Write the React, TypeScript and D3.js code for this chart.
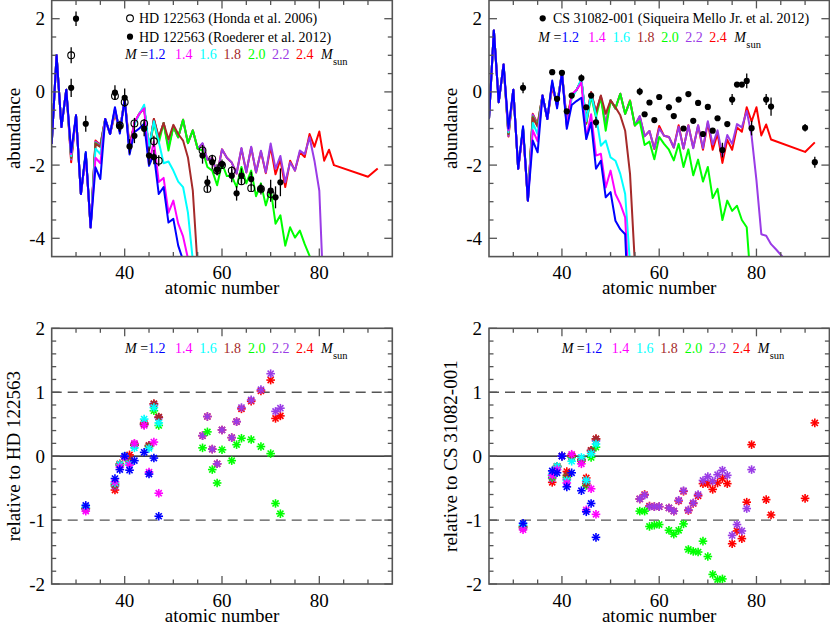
import React from "react";
import * as d3 from "d3";

const FONT = "'Liberation Serif','Times New Roman',Times,serif";

// ---------------- data ----------------
const Z_MODEL = [25,26,27,28,29,30,31,32,33,34,35,36,37,38,39,40,41,42,43,44,45,46,47,48,49,50,51,52,53,54,55,56,57,58,59,60,61,62,63,64,65,66,67,68,69,70,71,72,73,74,75,76,77,78,79,80,81,82,83,84,85,86,87,88,89,90,91,92];

const MASS_LABELS = ["1.2", "1.4", "1.6", "1.8", "2.0", "2.2", "2.4"];
const MASS_COLORS = ["#0000ff", "#ff00ff", "#00ffff", "#a52a2a", "#00ff00", "#9a3ce6", "#ff0000"];

// HD 122563 models (top-left)
const TL_M12 = [-1.42,1.0,-0.96,0.06,-1.65,-0.64,-2.79,-1.64,-3.7,-2.06, -2.38,-0.74,-1.15,-0.42,-1.14,-0.2,-1.71,-1.1,-1.0,-0.87, -2.02,-1.7,-2.79,-2.6,-3.57,-3.47,-4.2,-4.6,-7];
const TL_M14 = [-1.42,1.0,-0.96,0.06,-1.7,-0.64,-2.79,-1.72,-3.7,-1.8, -1.95,-0.74,-1.15,-0.46,-1.08,-0.2,-1.63,-0.83,-0.6,-0.45, -1.99,-1.35,-2.46,-2.35,-3.3,-2.97,-3.6,-3.95,-4.55,-7];
const TL_M16 = [-1.42,1.0,-0.96,0.06,-1.75,-0.64,-2.79,-1.67,-3.7,-1.55, -1.7,-0.74,-1.15,-0.48,-1.06,-0.2,-1.61,-0.9,-0.6,-0.35, -1.52,-0.8,-1.36,-1.95,-1.9,-2.15,-2.45,-2.6,-3.3,-4.6,-7];
const TL_M18 = [-1.42,1.0,-0.96,0.06,-1.8,-0.64,-2.79,-1.69,-3.7,-1.42, -1.5,-0.74,-1.15,-0.51,-1.06,-0.2,-1.54,-0.86,-0.6,-0.43, -1.58,-0.74,-1.24,-0.85,-1.3,-0.9,-1.15,-1.33,-1.79,-2.7,-4.8];
const TL_M20 = [-1.42,1.0,-0.96,0.06,-1.8,-0.64,-2.79,-1.68,-3.7,-1.4, -1.5,-0.74,-1.15,-0.5,-1.07,-0.2,-1.57,-0.86,-0.6,-0.43, -1.59,-0.85,-1.4,-0.85,-1.6,-0.95,-1.24,-0.76,-1.4,-1.05, -1.55,-1.6,-2.05,-2.15,-2.55,-1.95,-2.3,-2.3,-2.6,-2.05, -2.5,-2.15,-2.85,-2.5,-3.1,-2.65,-3.6,-3.37,-4.2,-3.7, -3.98,-3.79,-4.16,-4.48,-5.5];
const TL_M22 = [-1.42,1.0,-0.96,0.06,-1.85,-0.64,-2.79,-1.7,-3.7,-1.36, -1.45,-0.74,-1.15,-0.53,-1.07,-0.2,-1.59,-0.85,-0.6,-0.43, -1.58,-0.77,-1.28,-0.85,-1.5,-0.95,-1.24,-0.76,-1.4,-1.05, -1.55,-1.4,-1.85,-1.81,-2.25,-1.57,-1.8,-1.93,-2.23,-1.53, -2.2,-1.5,-2.2,-1.61,-2.2,-1.41,-2.1,-1.75,-2.47,-1.92, -2.15,-1.6,-1.7,-1.24,-1.88,-2.7,-6];
const TL_M24 = [-1.42,1.0,-0.96,0.06,-1.92,-0.64,-2.79,-1.69,-3.7,-1.33, -1.45,-0.74,-1.15,-0.6,-1.05,-0.2,-1.47,-0.84,-0.6,-0.41, -1.57,-0.74,-1.27,-0.85,-1.5,-0.95,-1.24,-0.76,-1.4,-1.05, -1.55,-1.42,-1.85,-1.81,-2.25,-1.57,-1.8,-1.93,-2.23,-1.55, -2.2,-1.52,-2.2,-1.63,-2.22,-1.5,-2.25,-1.85,-2.6,-1.88, -2.15,-1.65,-1.78,-1.15,-1.5,-1.08,-1.88,-1.58,-2.0, null,null,null,null,null,null,-2.32,null,-2.09];

// CS 31082-001 models (top-right)
const TR_M12 = [-0.74,1.68,-0.28,0.75,-1.0,0.06,-2.1,-0.94,-2.97,-1.33, -1.65,-0.1,-0.74,0.31,-0.45,0.52,-1.01,-0.36,-0.25,-0.16, -1.29,-0.84,-2.1,-1.88,-2.88,-2.74,-3.52,-3.75,-3.89,-7];
const TR_M14 = [-0.74,1.68,-0.28,0.75,-1.05,0.06,-2.1,-1.04,-2.97,-1.05, -1.35,-0.1,-0.74,0.24,-0.4,0.52,-0.95,-0.07,0.05,0.26, -1.26,-0.61,-1.74,-1.69,-2.61,-2.15,-2.79,-3.06,-3.43,-6];
const TR_M16 = [-0.74,1.68,-0.28,0.75,-1.1,0.06,-2.1,-0.97,-2.97,-0.85, -1.15,-0.1,-0.74,0.26,-0.35,0.52,-0.91,-0.18,0.05,0.36, -0.8,-0.06,-0.64,-1.47,-1.33,-1.79,-1.88,-2.24,-2.79,-4.7,-7];
const TR_M18 = [-0.74,1.68,-0.28,0.75,-1.15,0.06,-2.1,-0.99,-2.97,-0.7, -0.95,-0.1,-0.74,0.24,-0.35,0.52,-0.83,-0.1,0.05,0.33, -0.85,-0.01,-0.56,-0.1,-0.6,-0.23,-0.42,-0.64,-1.06,-2.24,-4.7];
const TR_M20 = [-0.74,1.68,-0.28,0.75,-1.15,0.06,-2.1,-0.99,-2.97,-0.68, -0.92,-0.1,-0.74,0.21,-0.35,0.52,-0.86,-0.12,0.05,0.31, -0.88,-0.12,-0.69,-0.14,-1.06,-0.23,-0.45,-0.05,-0.6,-0.25, -0.92,-0.8,-1.45,-1.36,-1.84,-1.23,-1.42,-1.58,-1.87,-1.42, -2.05,-1.57,-2.28,-1.85,-2.45,-2.05,-2.9,-2.65,-3.5,-2.97, -3.25,-3.11,-3.5,-3.7,-5.5];
const TR_M22 = [-0.74,1.68,-0.28,0.75,-1.2,0.06,-2.1,-1.01,-2.97,-0.62, -0.9,-0.1,-0.74,0.19,-0.36,0.52,-0.89,-0.11,0.05,0.31, -0.82,-0.02,-0.59,-0.12,-0.9,-0.23,-0.45,-0.05,-0.6,-0.25, -0.92,-0.66,-1.21,-1.07,-1.55,-1.0,-1.2,-1.23,-1.52,-0.95, -1.55,-0.92,-1.54,-0.91,-1.54,-0.8,-1.44,-1.05,-1.75,-1.18, -1.42,-0.88,-0.97,-0.52,-1.2,-2.42,-3.89,-3.93,-4.16,-4.3,-4.45,-4.6];
const TR_M24 = [-0.74,1.68,-0.28,0.75,-1.22,0.06,-2.1,-1.01,-2.97,-0.6, -0.87,-0.1,-0.74,0.13,-0.35,0.52,-0.77,-0.09,0.05,0.3, -0.76,-0.01,-0.56,-0.12,-0.9,-0.23,-0.45,-0.05,-0.6,-0.23, -0.92,-0.67,-1.21,-1.07,-1.56,-0.93,-1.2,-1.23,-1.52,-0.91, -1.55,-0.91,-1.53,-0.92,-1.58,-0.84,-1.58,-1.14,-1.94,-1.31, -1.58,-0.97,-1.09,-0.42,-0.81,-0.42,-1.19,-0.89,-1.3, null,null,null,null,null,null,-1.64,null,-1.38];

// observations
const HONDA_Z = [29,38,39,40,42,44,46,47,56,57,58,59,60,62,64,66,68,70];
const HONDA_V = [1.0,-0.11,-0.92,-0.28,-0.86,-0.86,-1.35,-1.88,-1.6,-2.65,-1.83,-2.15,-2.0,-2.15,-2.44,-2.63,-2.65,-2.79];
const HONDA_E = [0.22,0.1,0.1,0.12,0.15,0.12,0.15,0.15,0.15,0.1,0.1,0.1,0.1,0.12,0.1,0.1,0.1,0.15];

const ROED_Z = [29,30,32,38,39,40,41,42,44,45,46,56,57,58,59,60,62,63,64,66,68,70,71,72];
const ROED_V = [0.11,2.0,-0.87,-0.02,-0.94,-0.16,-1.49,-1.2,-1.01,-1.74,-1.78,-1.74,-2.47,-1.92,-2.13,-1.97,-2.29,-2.77,-2.29,-2.38,-2.65,-2.7,-2.88,-2.47];
const ROED_E = [0.25,0.2,0.22,0.2,0.15,0.25,0.2,0.2,0.2,0.25,0.2,0.22,0.18,0.2,0.15,0.12,0.18,0.2,0.2,0.2,0.15,0.3,0.3,0.38];

const CS_Z = [32,38,39,40,41,42,44,45,46,47,56,57,58,59,60,62,63,64,65,66,67,68,69,70,71,72,73,74,75,76,77,78,79,82,83,90,92];
const CS_V = [0.11,0.54,-0.19,0.52,-0.53,-0.1,0.38,-0.42,-0.1,-0.83,0.01,-0.61,-0.29,-0.77,-0.14,-0.42,-0.66,-0.21,-1.0,-0.06,-0.79,-0.3,-1.15,-0.41,-1.06,-0.72,-1.59,-0.88,-0.21,0.2,0.2,0.3,-0.99,-0.21,-0.4,-0.98,-1.92];
const CS_E = [0.15,0.05,0.05,0.05,0.05,0.05,0.1,0.05,0.05,0.15,0.1,0.05,0.05,0.05,0.05,0.08,0.05,0.05,0.05,0.05,0.05,0.05,0.05,0.05,0.05,0.05,0.2,0.05,0.15,0.05,0.05,0.2,0.2,0.15,0.25,0.1,0.15];

// relative to HD 122563 (bottom-left)
const BL_Z_LOW = [32,38,39,40,41,42,44,45,46,47];
const BL_M12 = [-0.77,-0.35,-0.21,0.0,-0.22,-0.07,0.06,-0.28,-0.03,-0.94];
const BL_M14 = [-0.86,-0.4,-0.17,-0.01,-0.14,0.2,0.48,-0.25,0.22,-0.58];
const BL_M16 = [-0.8,-0.42,-0.13,0.0,-0.12,0.13,0.58,0.12,0.76,0.52];
const BL_M18 = [-0.82,-0.45,-0.13,-0.01,-0.05,0.17,0.5,0.16,0.82,0.61];
const BL_Z = [32,38,39,40,41,42,44,45,46,47,56,57,58,59,60,62,63,64,66,68,70,71,72];
const BL_M20 = [-0.81,-0.43,-0.14,-0.01,-0.08,0.17,0.5,0.15,0.71,0.48,0.13,0.38,-0.21,-0.42,0.1,-0.07,0.18,0.28,0.26,0.15,0.04,-0.74,-0.9];
const BL_M22 = [-0.83,-0.47,-0.14,-0.01,-0.1,0.18,0.5,0.16,0.8,0.6,0.32,0.62,0.11,-0.12,0.41,0.29,0.54,0.76,0.88,1.04,1.29,0.7,0.75];
const BL_M24 = [-0.82,-0.53,-0.12,-0.01,0.02,0.19,0.52,0.17,0.82,0.61,0.32,0.62,0.11,-0.12,0.41,0.29,0.54,0.74,0.86,1.02,1.19,0.59,0.63];

// relative to CS 31082-001 (bottom-right)
const BR_Z_LOW = [32,38,39,40,41,42,44,45,46,47];
const BR_M12 = [-1.05,-0.23,-0.26,0.0,-0.48,-0.26,-0.54,-0.87,-0.74,-1.27];
const BR_M14 = [-1.15,-0.3,-0.21,0.0,-0.42,0.03,-0.12,-0.84,-0.51,-0.91];
const BR_M16 = [-1.08,-0.28,-0.16,0.0,-0.38,-0.08,-0.02,-0.38,0.04,0.19];
const BR_M18 = [-1.1,-0.3,-0.16,0.0,-0.3,0.0,-0.05,-0.43,0.09,0.27];
const BR_Z = [32,38,39,40,41,42,44,45,46,47,56,57,58,59,60,62,63,64,65,66,67,68,69,70,71,72,73,74,75,76,77,78,79,82,83,90,92];
const BR_M20 = [-1.1,-0.33,-0.16,0.0,-0.33,-0.02,-0.06,-0.46,-0.02,0.14,-0.86,-0.86,-1.1,-1.08,-1.07,-1.16,-1.22,-1.16,-1.06,-1.46,-1.49,-1.5,-1.33,-1.57,-1.85,-1.93,-1.92,null,null,null,null,null,null,null,null,null,null];
const BR_M22 = [-1.12,-0.35,-0.17,0.0,-0.36,-0.01,-0.07,-0.4,0.08,0.24,-0.67,-0.61,-0.79,-0.79,-0.79,-0.81,-0.86,-0.69,-0.54,-0.84,-0.73,-0.6,-0.38,-0.32,-0.39,-0.29,-0.22,-0.3,-1.24,-1.07,-1.17,-0.82,-0.21,null,null,null,null];
const BR_M24 = [-1.12,-0.41,-0.16,0.0,-0.24,0.01,-0.08,-0.34,0.09,0.27,-0.67,-0.6,-0.78,-0.79,-0.79,-0.81,-0.86,-0.7,-0.55,-0.85,-0.74,-0.62,-0.43,-0.43,-0.52,-0.42,-0.35,-0.43,-1.37,-1.17,-1.29,-0.72,0.18,-0.68,-0.92,-0.66,0.52];

const X_MAJOR = [40, 60, 80];
const TOP_Y_MAJOR = [-4, -2, 0, 2];
const BOT_Y_MAJOR = [-2, -1, 0, 1, 2];

// ---------------- helpers ----------------
type Pt = [number, number];
function pairs(zs: number[], vs: (number | null)[]): Pt[] {
  const out: Pt[] = [];
  vs.forEach((v, i) => {
    if (v !== null && v !== undefined && zs[i] !== undefined) out.push([zs[i], v]);
  });
  return out;
}

const FRAME = "#555555";
const ORDER = [6, 5, 4, 3, 2, 1, 0]; // draw red first, blue on top

function Axes(props: {
  xs: d3.ScaleLinear<number, number>;
  ys: d3.ScaleLinear<number, number>;
  yMajor: number[];
  yMinorStep: number;
  yLabel: string;
  yLabelX: number;
  tickLabelX: number;
}) {
  const { xs, ys, yMajor, yMinorStep, yLabel, yLabelX, tickLabelX } = props;
  const [x0, x1] = xs.range();
  const [yb, yt] = ys.range();
  const [d0, d1] = ys.domain();
  const xMinor = d3.range(25, 96, 5).filter((v) => !X_MAJOR.includes(v) && v > 25 && v < 95);
  const yMinor = d3
    .range(Math.round(d0 / yMinorStep), Math.round(d1 / yMinorStep) + 1)
    .map((k) => +(k * yMinorStep).toFixed(4))
    .filter((v) => !yMajor.some((m) => Math.abs(m - v) < 1e-6) && v > d0 && v < d1);
  const MJ = 8;
  const MN = 4.5;
  const tick = { stroke: FRAME, strokeWidth: 1.3 };
  return (
    <g>
      {X_MAJOR.map((v) => (
        <g key={"xm" + v}>
          <line x1={xs(v)} x2={xs(v)} y1={yb} y2={yb - MJ} {...tick} />
          <line x1={xs(v)} x2={xs(v)} y1={yt} y2={yt + MJ} {...tick} />
          <text x={xs(v)} y={yb + 22.5} fontSize={19} textAnchor="middle">{v}</text>
        </g>
      ))}
      {xMinor.map((v) => (
        <g key={"xn" + v}>
          <line x1={xs(v)} x2={xs(v)} y1={yb} y2={yb - MN} {...tick} />
          <line x1={xs(v)} x2={xs(v)} y1={yt} y2={yt + MN} {...tick} />
        </g>
      ))}
      {yMajor.map((v) => (
        <g key={"ym" + v}>
          <line x1={x0} x2={x0 + MJ} y1={ys(v)} y2={ys(v)} {...tick} />
          <line x1={x1} x2={x1 - MJ} y1={ys(v)} y2={ys(v)} {...tick} />
          <text x={tickLabelX} y={ys(v) + 6.5} fontSize={19} textAnchor="end">{v < 0 ? "-" + Math.abs(v) : String(v)}</text>
        </g>
      ))}
      {yMinor.map((v) => (
        <g key={"yn" + v}>
          <line x1={x0} x2={x0 + MN} y1={ys(v)} y2={ys(v)} {...tick} />
          <line x1={x1} x2={x1 - MN} y1={ys(v)} y2={ys(v)} {...tick} />
        </g>
      ))}
      <rect x={x0} y={yt} width={x1 - x0} height={yb - yt} fill="none" stroke={FRAME} strokeWidth={1.6} />
      <text x={(x0 + x1) / 2} y={yb + 37.5} fontSize={19} textAnchor="middle">atomic number</text>
      <text transform={`translate(${yLabelX},${(yb + yt) / 2}) rotate(-90)`} fontSize={19} textAnchor="middle">{yLabel}</text>
    </g>
  );
}

function MassLegend({ x, y }: { x: number; y: number }) {
  const offs = [0, 50, 74.3, 98.6, 123, 147, 171];
  return (
    <g fontSize={14}>
      <text x={x} y={y}>
        <tspan fontStyle="italic">M</tspan>
        <tspan> =</tspan>
        <tspan fill={MASS_COLORS[0]}>{MASS_LABELS[0]}</tspan>
      </text>
      {MASS_LABELS.slice(1).map((l, j) => (
        <text key={l} x={x + offs[j + 1]} y={y} fill={MASS_COLORS[j + 1]}>{l}</text>
      ))}
      <text x={x + 196} y={y} fontStyle="italic">M</text>
      <text x={x + 208} y={y + 6} fontSize={10.5}>sun</text>
    </g>
  );
}

function Star({ x, y, c }: { x: number; y: number; c: string }) {
  const r = 4.3;
  const d = r * 0.707;
  return (
    <g stroke={c} strokeWidth={1.6}>
      <line x1={x - r} x2={x + r} y1={y} y2={y} />
      <line x1={x} x2={x} y1={y - r} y2={y + r} />
      <line x1={x - d} x2={x + d} y1={y - d} y2={y + d} />
      <line x1={x - d} x2={x + d} y1={y + d} y2={y - d} />
    </g>
  );
}

function ObsPoints({ xs, ys, zs, vs, es, open }: { xs: any; ys: any; zs: number[]; vs: number[]; es: number[]; open: boolean }) {
  return (
    <g>
      {zs.map((z, i) => (
        <g key={z + "_" + i}>
          <line x1={xs(z)} x2={xs(z)} y1={ys(vs[i] - es[i])} y2={ys(vs[i] + es[i])} stroke="#000" strokeWidth={1.3} />
          {open ? (
            <circle cx={xs(z)} cy={ys(vs[i])} r={3.4} fill="none" stroke="#000" strokeWidth={1.1} />
          ) : (
            <circle cx={xs(z)} cy={ys(vs[i])} r={3.1} fill="#000" />
          )}
        </g>
      ))}
    </g>
  );
}

export default function App() {
  const xL = d3.scaleLinear().domain([25, 95]).range([51.7, 392.3]);
  const xR = d3.scaleLinear().domain([25, 95]).range([489, 829.4]);
  const yTop = d3.scaleLinear().domain([-4.5, 2.5]).range([256.6, 0.4]);
  const yBot = d3.scaleLinear().domain([-2, 2]).range([584, 328.3]);

  const tlSeries = [TL_M12, TL_M14, TL_M16, TL_M18, TL_M20, TL_M22, TL_M24];
  const trSeries = [TR_M12, TR_M14, TR_M16, TR_M18, TR_M20, TR_M22, TR_M24];

  const lineL = d3.line<Pt>().x((d) => xL(d[0])).y((d) => yTop(d[1]));
  const lineR = d3.line<Pt>().x((d) => xR(d[0])).y((d) => yTop(d[1]));

  const blSets: [number[], (number | null)[]][] = [
    [BL_Z_LOW, BL_M12], [BL_Z_LOW, BL_M14], [BL_Z_LOW, BL_M16], [BL_Z_LOW, BL_M18],
    [BL_Z, BL_M20], [BL_Z, BL_M22], [BL_Z, BL_M24],
  ];
  const brSets: [number[], (number | null)[]][] = [
    [BR_Z_LOW, BR_M12], [BR_Z_LOW, BR_M14], [BR_Z_LOW, BR_M16], [BR_Z_LOW, BR_M18],
    [BR_Z, BR_M20], [BR_Z, BR_M22], [BR_Z, BR_M24],
  ];

  const dashed = { stroke: FRAME, strokeWidth: 1.3, strokeDasharray: "10,6" };

  return (
    <svg width={830} height={627} style={{ position: "absolute", left: 0, top: 0, background: "#fff", fontFamily: FONT }}>
      <style>{`text, tspan { font-family: 'Liberation Serif', 'Times New Roman', Times, serif; }`}</style>
      <defs>
        <clipPath id="clipTL"><rect x={51.7} y={0} width={340.6} height={256.6} /></clipPath>
        <clipPath id="clipTR"><rect x={489} y={0} width={340.4} height={256.6} /></clipPath>
      </defs>
      <rect x={0} y={0} width={830} height={627} fill="#fff" />

      {/* ---------- top-left ---------- */}
      <g clipPath="url(#clipTL)">
        {ORDER.map((k) => (
          <path key={"tl" + k} d={lineL(pairs(Z_MODEL, tlSeries[k])) || ""} fill="none" stroke={MASS_COLORS[k]} strokeWidth={2} strokeLinejoin="round" />
        ))}
      </g>
      <ObsPoints xs={xL} ys={yTop} zs={HONDA_Z} vs={HONDA_V} es={HONDA_E} open={true} />
      <ObsPoints xs={xL} ys={yTop} zs={ROED_Z} vs={ROED_V} es={ROED_E} open={false} />
      <Axes xs={xL} ys={yTop} yMajor={TOP_Y_MAJOR} yMinorStep={0.5} yLabel="abundance" yLabelX={20} tickLabelX={45} />
      <circle cx={130} cy={18.3} r={3.4} fill="none" stroke="#000" strokeWidth={1.1} />
      <text x={139} y={23.3} fontSize={14}>HD 122563 (Honda et al. 2006)</text>
      <circle cx={130} cy={36.7} r={3.1} fill="#000" />
      <text x={139} y={41.7} fontSize={14}>HD 122563 (Roederer et al. 2012)</text>
      <MassLegend x={125} y={59.3} />

      {/* ---------- top-right ---------- */}
      <g clipPath="url(#clipTR)">
        {ORDER.map((k) => (
          <path key={"tr" + k} d={lineR(pairs(Z_MODEL, trSeries[k])) || ""} fill="none" stroke={MASS_COLORS[k]} strokeWidth={2} strokeLinejoin="round" />
        ))}
      </g>
      <ObsPoints xs={xR} ys={yTop} zs={CS_Z} vs={CS_V} es={CS_E} open={false} />
      <Axes xs={xR} ys={yTop} yMajor={TOP_Y_MAJOR} yMinorStep={0.5} yLabel="abundance" yLabelX={457} tickLabelX={482} />
      <circle cx={542.7} cy={18.3} r={3.1} fill="#000" />
      <text x={553} y={23.3} fontSize={14}>CS 31082-001 (Siqueira Mello Jr. et al. 2012)</text>
      <MassLegend x={538.3} y={41.7} />

      {/* ---------- bottom-left ---------- */}
      <line x1={51.7} x2={392.3} y1={yBot(1)} y2={yBot(1)} {...dashed} />
      <line x1={51.7} x2={392.3} y1={yBot(-1)} y2={yBot(-1)} {...dashed} />
      <line x1={51.7} x2={392.3} y1={yBot(0)} y2={yBot(0)} stroke="#000" strokeWidth={1.3} />
      {ORDER.map((k) => (
        <g key={"bl" + k}>
          {pairs(blSets[k][0], blSets[k][1]).filter((p) => p[1] >= -2 && p[1] <= 2).map((p, i) => (
            <Star key={i} x={xL(p[0])} y={yBot(p[1])} c={MASS_COLORS[k]} />
          ))}
        </g>
      ))}
      <Axes xs={xL} ys={yBot} yMajor={BOT_Y_MAJOR} yMinorStep={0.2} yLabel="relative to HD 122563" yLabelX={20} tickLabelX={45} />
      <MassLegend x={125} y={353} />

      {/* ---------- bottom-right ---------- */}
      <line x1={489} x2={829.4} y1={yBot(1)} y2={yBot(1)} {...dashed} />
      <line x1={489} x2={829.4} y1={yBot(-1)} y2={yBot(-1)} {...dashed} />
      <line x1={489} x2={829.4} y1={yBot(0)} y2={yBot(0)} stroke="#000" strokeWidth={1.3} />
      {ORDER.map((k) => (
        <g key={"br" + k}>
          {pairs(brSets[k][0], brSets[k][1]).filter((p) => p[1] >= -2 && p[1] <= 2).map((p, i) => (
            <Star key={i} x={xR(p[0])} y={yBot(p[1])} c={MASS_COLORS[k]} />
          ))}
        </g>
      ))}
      <Axes xs={xR} ys={yBot} yMajor={BOT_Y_MAJOR} yMinorStep={0.2} yLabel="relative to CS 31082-001" yLabelX={457} tickLabelX={482} />
      <MassLegend x={561.7} y={353} />
    </svg>
  );
}
